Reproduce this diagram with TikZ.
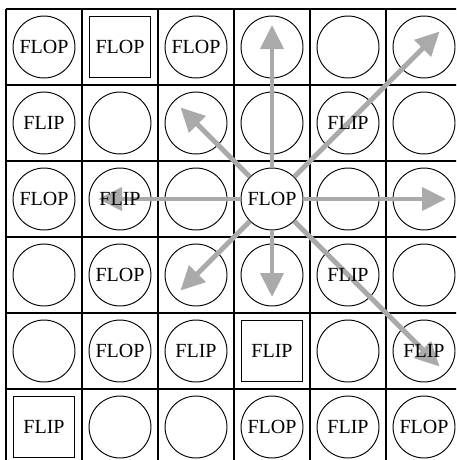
\documentclass[tikz,border=0pt]{standalone}
\usepackage{fontspec}
\setmainfont{Liberation Serif}
\usetikzlibrary{arrows.meta,positioning,calc}
\definecolor{arrowgray}{RGB}{170,170,170}

\begin{document}
\begin{tikzpicture}[
        spot/.style={draw, circle, line width=0.7pt, minimum size=1.63cm, inner sep=0pt},
        tile/.style={draw, rectangle, line width=0.7pt, minimum size=1.62cm, inner sep=0pt},
        word/.style={inner sep=0pt, font=\fontsize{15}{17}\selectfont},
        move/.style={draw=arrowgray, line width=3.7pt, -{Triangle[length=18pt, width=17pt]}}
    ]
        \clip (-0.158,0.237) rectangle (11.842,-11.868);
        \draw[line width=0.9pt] (0,-12) grid[step=2cm] (12,0);

        % board: row/column/shape/text
        \foreach \r/\col/\s/\txt in {
            0/0/spot/FLOP, 0/1/tile/FLOP, 0/2/spot/FLOP, 0/3/spot/, 0/4/spot/, 0/5/spot/,
            1/0/spot/FLIP, 1/1/spot/, 1/2/spot/, 1/3/spot/, 1/4/spot/FLIP, 1/5/spot/,
            2/0/spot/FLOP, 2/1/spot/FLIP, 2/2/spot/, 2/3/spot/FLOP, 2/4/spot/, 2/5/spot/,
            3/0/spot/, 3/1/spot/FLOP, 3/2/spot/, 3/3/spot/, 3/4/spot/FLIP, 3/5/spot/,
            4/0/spot/, 4/1/spot/FLOP, 4/2/spot/FLIP, 4/3/tile/FLIP, 4/4/spot/, 4/5/spot/FLIP,
            5/0/tile/FLIP, 5/1/spot/, 5/2/spot/, 5/3/spot/FLOP, 5/4/spot/FLIP, 5/5/spot/FLOP}
            {
            \node[\s] (n-\r-\col) at ({2*\col+1},{-2*\r-1}) {};
            \expandafter\xdef\csname word\r\col\endcsname{\txt}
            }

        % arrow ends
        \coordinate (t-n)  at ([yshift=0.58cm]n-0-3.center);
        \coordinate (t-ne) at ([shift={(0.41cm,0.41cm)}]n-0-5.center);
        \coordinate (t-e)  at ([xshift=0.58cm]n-2-5.center);
        \coordinate (t-se) at ([shift={(0.41cm,-0.41cm)}]n-4-5.center);
        \coordinate (t-s)  at ([yshift=-0.58cm]n-3-3.center);
        \coordinate (t-sw) at ([shift={(-0.41cm,-0.41cm)}]n-3-2.center);
        \coordinate (t-w)  at ([xshift=-0.58cm]n-2-1.center);
        \coordinate (t-nw) at ([shift={(-0.41cm,0.41cm)}]n-1-2.center);

        \foreach \d in {n,ne,e,se,s,sw,w,nw}
            \draw[move] (n-2-3) -- (t-\d);

        % words on top of the arrows
        \foreach \r in {0,...,5}
            \foreach \col in {0,...,5}
                \node[word] (w-\r-\col) at (n-\r-\col.center) {\csname word\r\col\endcsname};
    \end{tikzpicture}
\end{document}
